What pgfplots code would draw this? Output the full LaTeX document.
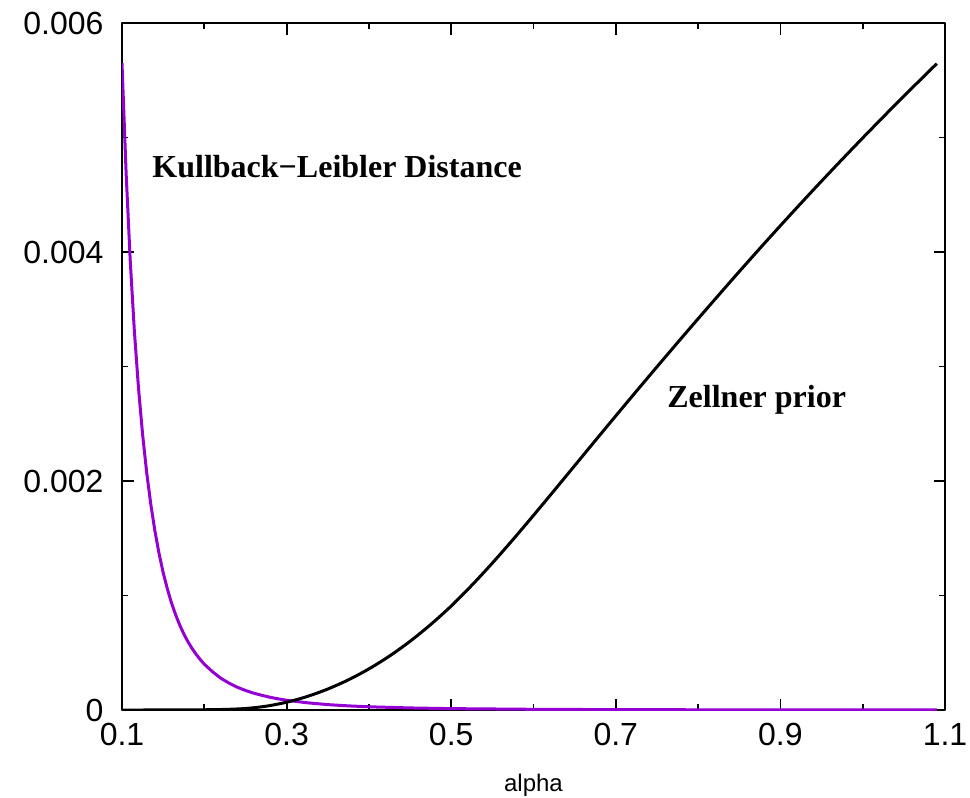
\documentclass[border=0pt]{standalone}
\usepackage{fontspec}
\setmainfont{Liberation Sans}
\newfontfamily\annotfont{Liberation Serif}
\usepackage{pgfplots}
\pgfplotsset{compat=1.18}

\definecolor{klviolet}{RGB}{148,0,211}

\begin{document}
\begin{tikzpicture}
% fixed page frame around the axis box
\useasboundingbox (-61pt,-44pt) rectangle (424pt,355pt);
\begin{axis}[
  scale only axis,
  width=411.5pt, height=343.5pt,
  xmin=0.1, xmax=1.1,
  ymin=0, ymax=0.006,
  axis line style={line width=1pt},
  tick style={line width=0.9pt, black},
  major tick length=5.75pt,
  minor tick length=3pt,
  tick align=inside,
  xtick={0.1,0.3,0.5,0.7,0.9,1.1},
  xticklabels={0.1,0.3,0.5,0.7,0.9,1.1},
  minor xtick={0.2,0.4,0.6,0.8,1.0},
  ytick={0,0.002,0.004,0.006},
  yticklabels={0,0.002,0.004,0.006},
  minor ytick={0.001,0.003,0.005},
  scaled ticks=false,
  ticklabel style={font=\fontsize{16}{19}\selectfont},
  xticklabel style={yshift=-3.2pt},
  yticklabel style={xshift=-5.7pt},
  xlabel={alpha},
  xlabel style={font=\fontsize{12}{14}\selectfont, at={(axis description cs:0.5,0)}, anchor=base, yshift=-40.8pt},
  clip=true,
  line join=round,
]
% Kullback-Leibler distance
\addplot[klviolet, line width=1.5pt] coordinates {
  (0.100,0.005650) (0.105,0.004690) (0.110,0.003926) (0.115,0.003313)
  (0.120,0.002816) (0.125,0.002409) (0.130,0.002074) (0.135,0.001796)
  (0.140,0.001563) (0.145,0.001367) (0.150,0.001201) (0.155,0.001061)
  (0.160,0.000938) (0.165,0.000835) (0.170,0.000744) (0.175,0.000666)
  (0.180,0.000598) (0.185,0.000539) (0.190,0.000487) (0.195,0.000441)
  (0.200,0.000400) (0.210,0.000334) (0.220,0.000278) (0.230,0.000235)
  (0.240,0.000199) (0.250,0.000171) (0.260,0.000147) (0.270,0.000128)
  (0.280,0.000111) (0.290,0.000097) (0.300,0.000085) (0.325,0.000063)
  (0.350,0.000047) (0.375,0.000036) (0.400,0.000028) (0.450,0.000018)
  (0.500,0.000012) (0.600,0.000006) (0.700,0.0000033) (0.800,0.000002)
  (0.900,0.0000013) (1.000,0.0000009) (1.090,0.0000007)
};
% Zellner prior
\addplot[black, line width=1.5pt, smooth] coordinates {
  (0.100,0) (0.125,0) (0.150,0.0000005) (0.175,0.000001)
  (0.200,0.000002) (0.225,0.000005) (0.250,0.000013) (0.275,0.000033)
  (0.300,0.000068) (0.325,0.000118) (0.350,0.000183) (0.375,0.000263)
  (0.400,0.000359) (0.425,0.000471) (0.450,0.000600) (0.475,0.000746)
  (0.500,0.000908) (0.525,0.001089) (0.550,0.001283) (0.575,0.001488)
  (0.600,0.001700) (0.625,0.001916) (0.650,0.002134) (0.675,0.002352)
  (0.700,0.002569) (0.725,0.002784) (0.750,0.002997) (0.775,0.003208)
  (0.800,0.003417) (0.825,0.003624) (0.850,0.003829) (0.875,0.004031)
  (0.900,0.004230) (0.925,0.004426) (0.950,0.004619) (0.975,0.004809)
  (1.000,0.004996) (1.025,0.005180) (1.050,0.005361) (1.075,0.005539)
  (1.090,0.005645)
};
\node[anchor=base west, inner sep=0pt, font=\annotfont\bfseries\fontsize{16}{19}\selectfont]
  at (axis cs:0.1365,0.004655) {Kullback−Leibler Distance};
\node[anchor=base west, inner sep=0pt, font=\annotfont\bfseries\fontsize{16}{19}\selectfont]
  at (axis cs:0.7622,0.002646) {Zellner prior};
\end{axis}
\end{tikzpicture}
\end{document}
